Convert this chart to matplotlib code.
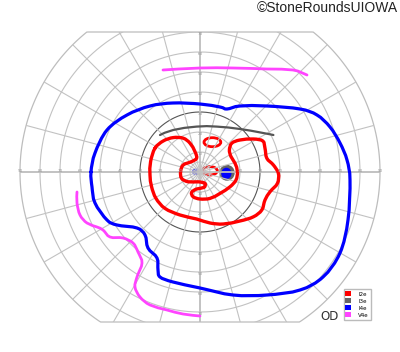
import numpy as np
import matplotlib.pyplot as plt
from matplotlib.patches import Polygon, Ellipse, Patch
from matplotlib.path import Path

# isopters in degrees of visual field (x: right +, y: up +)
i4e_x = [-54.5, -52.5, -46.5, -36.5, -25, -13.5, 0, 10, 13.5, 20, 33.5, 50, 58.5, 65, 70, 73.5, 75,
         74, 70, 61.5, 50, 33.5, 16.5, 0, -13.5, -20, -21, -21.5, -26, -27.5, -31.5, -41.5, -46.5, -52.5, -54]
i4e_y = [0, 9.5, 21, 28.5, 33, 34.5, 34, 32.5, 31.5, 33, 33, 31.5, 28.5, 22.5, 14.5, 6, -4,
         -24, -40.5, -52.5, -59, -61.5, -61.5, -58, -55, -52.5, -49, -43, -38, -31.5, -28, -26.5, -24, -15.5, -7.5]

i2e_x = [-22.5, -18.4, -13.4, -8.4, -5, -2.5, -1.7, -4.2, -8.4, -9.7, -9.2, -5.9, -0.9, 2.5, 2, -1.7, -4.2,
         -3.4, 0, 5, 10, 15, 18, 18.7, 17.5, 15.5, 14.7, 15.9, 20, 26.7, 31.4, 32.5, 33.4, 36.7, 39.2, 38.7,
         35, 32.5, 30.9, 26.7, 20, 11.7, 5, -1.7, -10, -17.5, -22, -24.2, -25, -24.7]
i2e_y = [11.9, 15.5, 17.2, 16.9, 14.4, 10.2, 6.9, 5.2, 3.5, 0.2, -3.2, -4.9, -4.9, -5.7, -7.7, -8.5, -10.2,
         -12.4, -13.5, -13.2, -10.7, -7.4, -4, 0.2, 4.4, 7.7, 11, 14.4, 16, 16.5, 15.5, 11.9, 6.9, 3.5, -0.7, -5.7,
         -9.9, -14, -19, -22.4, -24.5, -26, -25.5, -23.5, -21.5, -18.2, -13.2, -7.4, -1.5, 5.2]

# small islands: (cx, cy, half width, half height)
i2e_islands = [(6.2, 14.9, 4.2, 2.25), (5, 0.6, 3.65, 2.1)]
i3e_spot = (13.5, -0.4, 3.5, 3.6)
i4e_spots = [(13.2, -0.7, 2.2, 2.5), (-1.7, 0.1, 2.0, 1.25)]

i3e_x = [-20, -13.4, -1.7, 8.4, 20, 30, 36.7]
i3e_y = [18.5, 21, 22.7, 22.7, 21.5, 19.8, 18.5]

v4e_top_x = [-18.5, 0, 16.5, 33.5, 46.5, 53.5]
v4e_top_y = [51, 52, 52, 51.5, 51, 48.5]
v4e_low_x = [-61.5, -61.5, -60, -56.5, -51.5, -48.5, -45, -38.5, -33.5, -31, -29, -31.5, -32.5, -30, -25,
             -16.5, -8.5, 0]
v4e_low_y = [-10, -15.5, -21.5, -25.5, -27.5, -29, -32.5, -33, -35.5, -40, -45.5, -52.5, -57.5, -62.5, -66.5,
             -69, -71, -72]

rings = [5, 10, 20, 30, 40, 50, 60, 70, 80, 90]
meridians = np.arange(0, 360, 15)
h_ticks = [10, 20, 30, 40, 50, 60, 70, 80, 90]
v_ticks = [10, 20, 30, 40, 50, 60, 70]

labels = ['I2e', 'I3e', 'I4e', 'V4e']
colors = ['#ff0000', '#666666', '#0000ff', '#ff44ff']


def smooth_path(xs, ys, closed=False):
    # catmull-rom through the points, handed to matplotlib as cubic beziers
    p = np.column_stack([xs, ys]).astype(float)
    n = len(p)
    if closed:
        idx = lambda i: p[i % n]
        segs = n
    else:
        idx = lambda i: p[min(max(i, 0), n - 1)]
        segs = n - 1
    verts = [p[0]]
    codes = [Path.MOVETO]
    for i in range(segs):
        p0, p1, p2, p3 = idx(i - 1), idx(i), idx(i + 1), idx(i + 2)
        verts += [p1 + (p2 - p0) / 6, p2 - (p3 - p1) / 6, p2]
        codes += [Path.CURVE4] * 3
    return Path(verts, codes)


def draw_curve(xs, ys, color, lw, closed=False):
    poly = smooth_path(xs, ys, closed).to_polygons(closed_only=False)[0]
    ax.plot(poly[:, 0], poly[:, 1], color=color, lw=lw,
            solid_joinstyle='round', solid_capstyle='round')


fig = plt.figure(figsize=(4, 3.52), dpi=100)
ax = fig.add_axes([0, 0, 1, 1])
ax.set_xlim(-100, 100)
ax.set_ylim(-90, 86)
ax.axis('off')

# chart outline: 90 deg circle cut at 70 above and 75 below
t = np.linspace(0, 2 * np.pi, 721)
bx = 90 * np.cos(t)
by = np.clip(90 * np.sin(t), -75, 70)
border = Polygon(np.column_stack([bx, by]), closed=True, fill=False, edgecolor='#bdbdbd', lw=0.9)
ax.add_patch(border)

grid = '#c2c2c2'
for r in rings:
    if r == 90:
        continue
    c = '#555555' if r == 30 else grid
    ln, = ax.plot(r * np.cos(t), r * np.sin(t), color=c, lw=0.8)
    ln.set_clip_path(border)
for m in meridians:
    a = np.radians(m)
    w = 1.3 if m % 90 == 0 else 0.8
    ln, = ax.plot([0, 95 * np.cos(a)], [0, 95 * np.sin(a)], color='#bdbdbd' if w > 1 else grid, lw=w)
    ln.set_clip_path(border)

for v in h_ticks:
    for s in (-1, 1):
        ax.text(s * v, 0.6, str(v), fontsize=3, color='#999999', ha='center', va='center')
for v in v_ticks:
    for s in (-1, 1):
        ax.text(0, s * v - 0.8, str(v), fontsize=3, color='#999999', ha='center', va='center')

# isopters
ax.add_patch(Ellipse(i3e_spot[:2], 2 * i3e_spot[2], 2 * i3e_spot[3], color=colors[1]))
for cx, cy, hw, hh in i4e_spots:
    ax.add_patch(Ellipse((cx, cy), 2 * hw, 2 * hh, color=colors[2]))
for cx, cy, hw, hh in i2e_islands:
    ax.add_patch(Ellipse((cx, cy), 2 * hw, 2 * hh, fill=False, edgecolor=colors[0], lw=2))

draw_curve(i2e_x, i2e_y, colors[0], 2.4, closed=True)
draw_curve(i3e_x, i3e_y, '#555555', 1.6)
draw_curve(i4e_x, i4e_y, colors[2], 2.3, closed=True)
draw_curve(v4e_top_x, v4e_top_y, colors[3], 2)
draw_curve(v4e_low_x, v4e_low_y, colors[3], 2)

ax.text(64.6, -72.4, 'OD', fontsize=8.5, color='#333333', ha='center', va='center')

handles = [Patch(facecolor=c, edgecolor='none', label=l) for c, l in zip(colors, labels)]
ax.legend(handles=handles, loc='lower right', bbox_to_anchor=(0.934, 0.084), fontsize=4,
          frameon=True, fancybox=False, edgecolor='#bbbbbb', framealpha=1,
          handlelength=1.0, handleheight=1.0, handletextpad=1.3, labelspacing=0.3, borderpad=0.35)

fig.text(0.995, 0.977, '©StoneRoundsUIOWA', ha='right', va='center', fontsize=10,
         family='Liberation Sans', color='#222222')

fig.savefig('out.png', dpi=100)
